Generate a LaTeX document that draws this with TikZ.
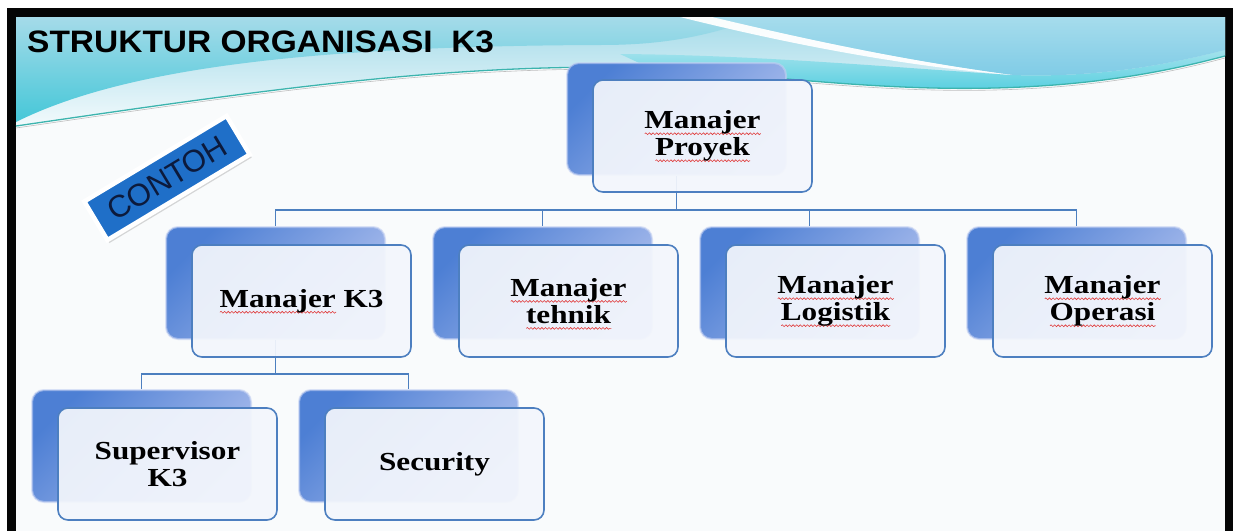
\documentclass[tikz,border=0pt]{standalone}
\usepackage{fontspec}
\usetikzlibrary{shadows,decorations.pathmorphing}
\newfontfamily\boxfont{Liberation Serif}[FakeStretch=1.2]
\newfontfamily\titlefont{Liberation Sans}[FakeStretch=1.08]
\newfontfamily\labelfont{Liberation Sans}
\definecolor{framecol}{HTML}{050505}
\definecolor{slidebg}{HTML}{F9FBFC}
\definecolor{hdrtop}{HTML}{A5DBE9}
\definecolor{hdrcyan}{HTML}{45C7D8}
\definecolor{hdrband}{HTML}{4FCDDF}
\definecolor{hdrbandtop}{HTML}{A3E2EC}
\definecolor{hdrblue}{HTML}{7ECBE6}
\definecolor{hdrbluetop}{HTML}{A6DCEC}
\definecolor{skybottom}{HTML}{F2FAFC}
\definecolor{tealline}{HTML}{3CB4AE}
\definecolor{boxline}{HTML}{4D7FC0}
\definecolor{boxfill}{HTML}{F3F6FC}
\definecolor{shdark}{HTML}{4D7FD4}
\definecolor{shlight}{HTML}{AFC0EE}
\definecolor{shedge}{HTML}{C3D0F2}
\definecolor{connline}{HTML}{4C7FBF}
\definecolor{contohblue}{HTML}{1F6FC8}
\definecolor{contohtext}{HTML}{0C1A3C}
\definecolor{squig}{HTML}{E03A3A}
\newsavebox\sqbox
\newlength\sqlen
\newcommand\spellsq[1]{\leavevmode\sbox\sqbox{#1}\setlength\sqlen{\wd\sqbox}%
  \rlap{\smash{\tikz[baseline=0pt, sharp corners, x=1pt, y=1pt]
    \draw[squig, line width=0.6pt, sharp corners, decorate,
    decoration={snake, amplitude=0.9pt, segment length=3.6pt}]
    (0pt,-5pt) -- (\sqlen,-5pt);}}\usebox\sqbox\relax}
\tikzset{
  frontbox/.style={draw=boxline, line width=1.6pt, rounded corners=10pt,
    fill=boxfill, fill opacity=0.93, text opacity=1,
    minimum width=219pt, minimum height=112pt, align=center, inner sep=0pt,
    font=\boxfont\bfseries\fontsize{26}{27}\selectfont, text=black},
  backbox/.style={rounded corners=12pt, minimum width=219pt, minimum height=112pt,
    top color=shdark, bottom color=shlight, shading angle=45,
    draw=shedge, draw opacity=0.6, line width=2pt, inner sep=0pt},
  conn/.style={draw=connline, line width=1.5pt},
}
\begin{document}
\begin{tikzpicture}[x=1pt,y=-1pt]
\useasboundingbox (0,0) rectangle (1233,531);
\fill[white] (0,0) rectangle (1233,531);
% frame and slide
\fill[framecol] (7,8) rectangle (1233,531);
\fill[slidebg] (16,17) rectangle (1225,531);
% header decoration: sky above the teal line
\path[top color=hdrtop, bottom color=skybottom]
  (16,17) -- (1225,17) -- (1225,56)
  .. controls (1180,68) and (1120,81) .. (1040,86)
  .. controls (900,95) and (780,76) .. (650,68)
  .. controls (450,62) and (250,92) .. (16,126) -- cycle;
% left cyan swoosh
\path[top color=hdrtop, bottom color=hdrcyan]
  (16,17) -- (760,17) .. controls (700,40) and (650,45) .. (600,45)
  .. controls (300,46) and (120,70) .. (16,122) -- cycle;
% cyan band on the right
\path[top color=hdrbandtop, bottom color=hdrband]
  (620,54) .. controls (760,55) and (900,68) .. (1012,75)
  .. controls (1100,78) and (1170,64) .. (1225,50) -- (1225,56)
  .. controls (1180,68) and (1120,81) .. (1040,86)
  .. controls (900,95) and (780,76) .. (650,68) -- cycle;
% blue sweep top right
\path[top color=hdrbluetop, bottom color=hdrblue]
  (712,17) -- (1225,17) -- (1225,50) .. controls (1170,64) and (1100,78) .. (1012,75)
  .. controls (900,60) and (800,38) .. (712,17) -- cycle;
% white streak
\fill[white, opacity=0.95]
  (680,17) -- (712,17) .. controls (800,38) and (900,60) .. (1012,75)
  .. controls (900,66) and (780,42) .. (680,17) -- cycle;
\draw[black!25, line width=0.6pt]
  (16,128) .. controls (250,94) and (450,64) .. (650,70)
  .. controls (780,78) and (900,97) .. (1040,88)
  .. controls (1120,83) and (1180,70) .. (1225,58);
\draw[tealline, line width=1.3pt]
  (16,126) .. controls (250,92) and (450,62) .. (650,68)
  .. controls (780,76) and (900,95) .. (1040,86)
  .. controls (1120,81) and (1180,68) .. (1225,56);
% title
\node[anchor=base west, inner sep=0pt, font=\titlefont\bfseries\fontsize{31}{31}\selectfont]
  (title) at (27,52) {STRUKTUR ORGANISASI\ \ K3};
% CONTOH label
\node[rotate=31, fill=contohblue, draw=white, line width=4.5pt,
  minimum width=166pt, minimum height=45pt, inner sep=0pt,
  font=\labelfont\fontsize{31}{31}\selectfont, text=contohtext,
  drop shadow={shadow xshift=2pt, shadow yshift=-3pt, opacity=0.3}]
  (contoh) at (167,178) {CONTOH};
% shadow boxes
\node[backbox] (sP) at (676.5,119) {};
\node[backbox] (sK) at (275.5,283) {};
\node[backbox] (sT) at (542.5,283) {};
\node[backbox] (sL) at (809.5,283) {};
\node[backbox] (sO) at (1076.5,283) {};
\node[backbox] (sS) at (141.5,446) {};
\node[backbox] (sC) at (408.5,446) {};
% connectors
\coordinate (barA) at (0,210);
\coordinate (barB) at (0,374);
\draw[conn] (sP.south) -- (sP.south |- barA);
\draw[conn] (sK.north) |- (sO.north |- barA) -- (sO.north);
\draw[conn] (sT.north) -- (sT.north |- barA);
\draw[conn] (sL.north) -- (sL.north |- barA);
\draw[conn] (sK.south) -- (sK.south |- barB);
\draw[conn] (sS.north) |- (sC.north |- barB) -- (sC.north);
% front boxes
\node[frontbox] (P) at (702.5,136) {\spellsq{Manajer}\\\spellsq{Proyek}};
\node[frontbox] (K) at (301.5,301) {\spellsq{Manajer} K3};
\node[frontbox] (T) at (568.5,301) {\spellsq{Manajer}\\\spellsq{tehnik}};
\node[frontbox] (L) at (835.5,301) {\spellsq{Manajer}\\\spellsq{Logistik}};
\node[frontbox] (O) at (1102.5,301) {\spellsq{Manajer}\\\spellsq{Operasi}};
\node[frontbox] (S) at (167.5,464) {Supervisor\\K3};
\node[frontbox] (C) at (434.5,464) {Security};
\end{tikzpicture}
\end{document}
